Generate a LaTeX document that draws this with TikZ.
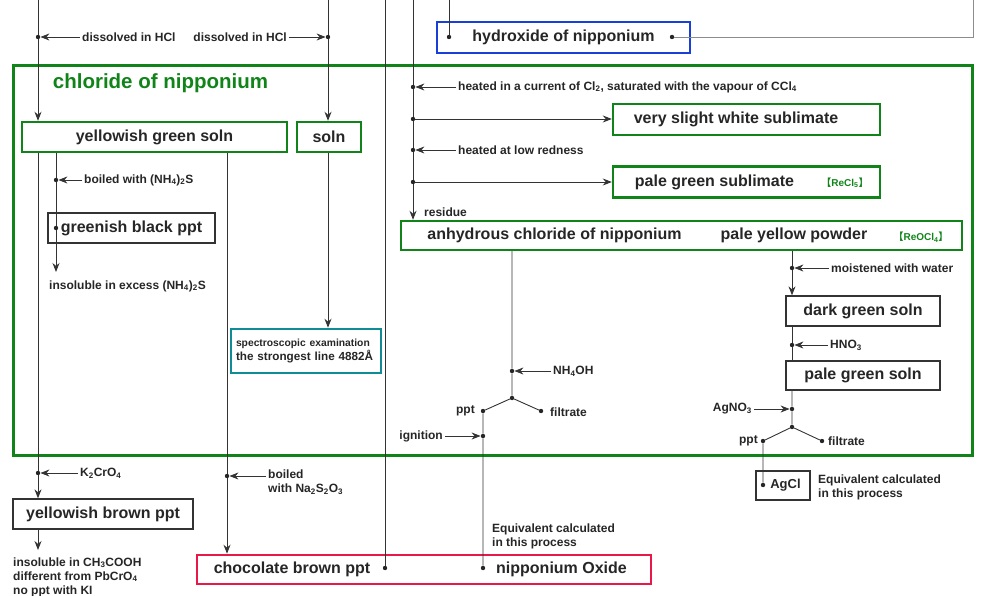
\documentclass[tikz,border=0pt]{standalone}
\usepackage{fontspec}
\setmainfont{Liberation Sans}
\newfontfamily\cjkfont{Noto Sans CJK SC}
\usetikzlibrary{arrows.meta}
\definecolor{npgreen}{RGB}{16,132,24}
\definecolor{npblue}{RGB}{24,64,216}
\definecolor{npteal}{RGB}{16,140,150}
\definecolor{npred}{RGB}{232,24,72}
\tikzset{basic/.style={draw,rectangle,inner sep=0pt,text=black!85,
                       font=\bfseries\fontsize{16}{19}\selectfont}}
\tikzset{greenbox/.style={basic,draw=npgreen,line width=2.4pt}}
\tikzset{blackbox/.style={basic,draw=black!80,line width=1.3pt}}
\tikzset{bluebox/.style={basic,draw=npblue,line width=2.6pt}}
\tikzset{redbox/.style={basic,draw=npred,line width=2.6pt}}
\tikzset{tealbox/.style={basic,draw=npteal,line width=2.6pt}}
\tikzset{boxtext/.style={text=black!85,inner sep=0pt,
                         font=\bfseries\fontsize{16}{19}\selectfont}}
\tikzset{note/.style={text=black!85,inner sep=2pt,
                      font=\bfseries\fontsize{12}{14}\selectfont}}
\tikzset{formula/.style={text=npgreen,inner sep=0pt,
                         font=\bfseries\fontsize{10}{12}\selectfont}}
\tikzset{dot/.style={circle,fill=black!85,inner sep=0pt,minimum size=4.4pt}}
\tikzset{flow/.style={draw=black!80,line width=0.9pt}}
\newcommand{\lbr}{{\cjkfont 【}}
\newcommand{\rbr}{{\cjkfont 】}}

\begin{document}
\begin{tikzpicture}[x=1pt,y=-1pt,>={Stealth[length=9pt,width=7pt]}]
    \useasboundingbox (0,0) rectangle (981,596);
    % chloride frame
    \node[draw=npgreen,line width=3pt,inner sep=0pt,
          minimum width=959,minimum height=389] (chl) at (492.5,260.5) {};
    \node[text=npgreen,font=\bfseries\fontsize{20.5}{24}\selectfont]
          (chlT) at (160.5,83) {chloride of nipponium};
    \foreach \n/\x in {tA/38,tB/328,tC/385,tD/413,tE/449,tF/973}{%
          \coordinate (\n) at (\x,0);
        }
    \coordinate (cE) at (56,272);
    \coordinate (cIns) at (38,550);
    % boxes
    \node[greenbox,minimum width=265,minimum height=30] (ygs) at (154.5,137) {yellowish green soln};
    \node[greenbox,minimum width=64,minimum height=30] (soln) at (329,137) {soln};
    \node[blackbox,minimum width=167,minimum height=30] (gbp) at (131.5,228) {greenish black ppt};
    \node[tealbox,minimum height=44,text width=140,inner xsep=5,align=left,
          font=\bfseries\fontsize{11.7}{14}\selectfont] (spec) at (306,351)
          {{\fontsize{10.3}{14}\selectfont spectroscopic examination}\\the strongest line 4882Å};
    \node[bluebox,minimum width=253,minimum height=31] (hyd) at (563.5,37.5) {hydroxide of nipponium};
    \node[greenbox,minimum width=267,minimum height=31] (vsws) at (746.5,119.5) {};
    \node[boxtext] (vswsT) at (736,119.5) {very slight white sublimate};
    \node[greenbox,minimum width=267,minimum height=31] (pgsub) at (746.5,182) {};
    \node[boxtext] (pgsubT) at (714.5,182) {pale green sublimate};
    \node[formula] (recl) at (845,183) {\lbr ReCl\textsubscript{5}\rbr};
    \node[greenbox,minimum width=561,minimum height=29] (anh) at (681.5,235.5) {};
    \node[boxtext] (anhT) at (554.5,235.5) {anhydrous chloride of nipponium};
    \node[boxtext] (pyp) at (794,235.5) {pale yellow powder};
    \node[formula] (reocl) at (921,237) {\lbr ReOCl\textsubscript{4}\rbr};
    \node[blackbox,minimum width=154,minimum height=30] (dgs) at (863,311) {dark green soln};
    \node[blackbox,minimum width=154,minimum height=29] (pgs) at (863,375.5) {pale green soln};
    \node[blackbox,minimum width=54,minimum height=29,
          font=\bfseries\fontsize{13}{15}\selectfont] (agcl) at (783,485.5) {\hspace{5pt}AgCl};
    \node[blackbox,minimum width=180,minimum height=30] (ybp) at (103,514) {yellowish brown ppt};
    \node[redbox,minimum width=454,minimum height=29] (ox) at (424,569.5) {};
    \node[boxtext] (cbp) at (292,569.5) {chocolate brown ppt};
    \node[boxtext] (nox) at (561.5,569.5) {nipponium Oxide};
    % dots
    \foreach \n/\x/\y in {dL/38/37,dR/328/37,dHa/449/37,dHb/672/37,
                          dCl/413/87,dVs/413/119,dLr/413/150,dPg/413/182,
                          dNS/56/180,dGb/56/228,dK/38/473,dNa/227/476,
                          dNH/512/371,brG/512/398,pptG/483/411,filG/541/411,
                          dIg/483/436,dCb/385/568,dOx/483/568,
                          dMo/792/268,dHN/792/345,dAg/792/409,brH/792/427,
                          pptH/763/441,filH/822/441,dAgCl/763/485}{%
          \node[dot] (\n) at (\x,\y) {};
        }
    % flows
    \draw[flow,->] (tA) -- (dL) -- (ygs.north -| tA);
    \draw[flow,->] (ygs.south -| tA) -- (dK) -- (ybp.north -| tA);
    \draw[flow,->] (ybp.south -| tA) -- (cIns);
    \draw[flow,->] (ygs.south -| dNS) -- (dNS) -- (dGb) -- (cE);
    \draw[flow,->] (ygs.south -| dNa) -- (dNa) -- (ox.north -| dNa);
    \draw[flow,->] (tB) -- (dR) -- (soln.north -| tB);
    \draw[flow,->] (soln.south -| tB) -- (spec.north -| tB);
    \draw[flow] (tC) -- (dCb);
    \draw[flow,->] (tD) -- (dCl) -- (dVs) -- (dLr) -- (dPg) -- (anh.north -| tD);
    \draw[flow,->] (dVs) -- (vsws.west |- dVs);
    \draw[flow,->] (dPg) -- (pgsub.west |- dPg);
    \draw[flow] (tE) -- (dHa);
    \draw[flow,draw=black!45] (dHb) -- (dHb -| tF) -- (tF);
    \draw[flow] (anh.south -| dNH) -- (dNH) -- (brG) -- (pptG) -- (dIg) -- (dOx);
    \draw[flow] (brG) -- (filG);
    \draw[flow,->] (anh.south -| dMo) -- (dMo) -- (dgs.north -| dMo);
    \draw[flow] (dgs.south -| dHN) -- (dHN) -- (pgs.north -| dHN);
    \draw[flow] (pgs.south -| dAg) -- (dAg) -- (brH) -- (pptH) -- (dAgCl);
    \draw[flow] (brH) -- (filH);
    % Labels
    \node[note,anchor=west] (lHClL) at (80,37) {dissolved in HCl};
    \node[note,anchor=east] (lHClR) at (289,37) {dissolved in HCl};
    \node[note,anchor=west] (lCl) at (456,87)
          {heated in a current of Cl\textsubscript{2}, saturated with the vapour of CCl\textsubscript{4}};
    \node[note,anchor=west] (lLr) at (456,150) {heated at low redness};
    \node[note,anchor=west] (lRes) at (422,212) {residue};
    \node[note,anchor=west] (lNS) at (82,180) {boiled with (NH\textsubscript{4})\textsubscript{2}S};
    \node[note,anchor=west] (lIns) at (47,286) {insoluble in excess (NH\textsubscript{4})\textsubscript{2}S};
    \node[note,anchor=west] (lNH) at (551,371) {NH\textsubscript{4}OH};
    \node[note,anchor=east] (lpptG) at (477,411) {ppt};
    \node[note,anchor=west] (lfilG) at (548,412) {filtrate};
    \node[note,anchor=east] (lIg) at (445,436) {ignition};
    \node[note,anchor=west] (lMo) at (829,268) {moistened with water};
    \node[note,anchor=west] (lHN) at (828,345) {HNO\textsubscript{3}};
    \node[note,anchor=east] (lAg) at (754,409) {AgNO\textsubscript{3}};
    \node[note,anchor=east] (lpptH) at (760,441) {ppt};
    \node[note,anchor=west] (lfilH) at (826,441) {filtrate};
    \node[note,anchor=west,align=left] (lEqH) at (816,487) {Equivalent calculated\\in this process};
    \node[note,anchor=west,align=left] (lEqG) at (490,536) {Equivalent calculated\\in this process};
    \node[note,anchor=west] (lK) at (78,473) {K\textsubscript{2}CrO\textsubscript{4}};
    \node[note,anchor=west,align=left] (lNa) at (266,482) {boiled\\with Na\textsubscript{2}S\textsubscript{2}O\textsubscript{3}};
    \node[note,anchor=west,align=left] (lCH) at (11,577)
          {insoluble in CH\textsubscript{3}COOH\\different from PbCrO\textsubscript{4}\\no ppt with KI};
    \draw[flow,->] (lHClL.west) -- (dL);
    \draw[flow,->] (lHClR.east) -- (dR);
    \draw[flow,->] (lCl.west) -- (dCl);
    \draw[flow,->] (lLr.west) -- (dLr);
    \draw[flow,->] (lNS.west) -- (dNS);
    \draw[flow,->] (lNH.west) -- (dNH);
    \draw[flow,->] (lIg.east) -- (dIg);
    \draw[flow,->] (lMo.west) -- (dMo);
    \draw[flow,->] (lHN.west) -- (dHN);
    \draw[flow,->] (lAg.east) -- (dAg);
    \draw[flow,->] (lK.west) -- (dK);
    \draw[flow,->] (lNa.west |- dNa) -- (dNa);
\end{tikzpicture}
\end{document}
